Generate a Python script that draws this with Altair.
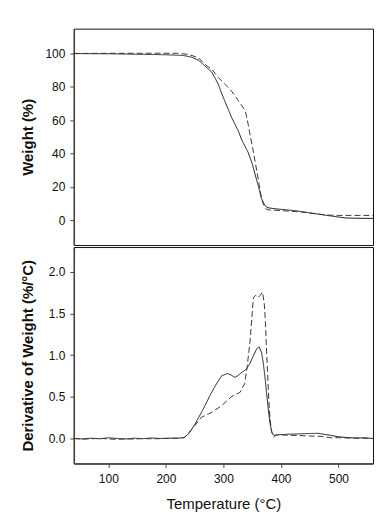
import altair as alt
import pandas as pd

# ---- Weight (TGA) ----
w_solid_T = [40, 100, 150, 200, 230, 245, 257, 268, 280, 291, 297, 309, 314, 326, 332, 343, 350, 355, 361, 366, 372, 375, 379, 390, 430, 476, 511, 530, 560]
w_solid_W = [100, 99.9, 99.6, 99.3, 98.9, 97.8, 96.0, 92.5, 88.8, 81.7, 76.0, 66.0, 61.8, 53.5, 48.0, 40.6, 34.0, 27.5, 20.0, 13.0, 9.0, 7.8, 7.3, 6.8, 5.4, 3.0, 1.3, 1.1, 1.0]

w_dash_T = [40, 150, 220, 240, 257, 268, 280, 291, 303, 314, 326, 338, 343, 347, 351, 358, 362, 366, 370, 375, 380, 390, 430, 480, 500, 560]
w_dash_W = [100.1, 100.2, 100.2, 99.5, 97.4, 93.5, 90.5, 85.7, 81.5, 77.5, 71.7, 65.7, 57.6, 50.0, 43.0, 29.5, 21.5, 13.4, 9.0, 6.4, 6.0, 5.9, 5.0, 3.0, 2.8, 2.8]

# ---- Derivative (DTG) ----
d_solid_T = [40, 55, 70, 85, 100, 115, 130, 145, 160, 175, 190, 205, 220, 232, 240, 251, 260, 268, 277, 286, 297, 307, 314, 320, 326, 332, 340, 346, 352, 358, 362, 366, 369, 372, 375, 378, 381, 384, 388, 395, 410, 430, 450, 465, 475, 488, 500, 517, 530, 545, 560]
d_solid_V = [0.0, -0.005, 0.003, -0.004, 0.008, 0.0, -0.006, 0.004, -0.003, 0.006, 0.0, 0.004, 0.003, 0.01, 0.06, 0.176, 0.29, 0.395, 0.52, 0.635, 0.754, 0.78, 0.76, 0.734, 0.76, 0.794, 0.834, 0.9, 0.994, 1.08, 1.10, 1.04, 0.92, 0.754, 0.55, 0.355, 0.18, 0.076, 0.036, 0.045, 0.05, 0.055, 0.06, 0.062, 0.05, 0.036, 0.02, 0.01, 0.005, 0.008, 0.0]

d_dash_T = [40, 55, 70, 85, 100, 115, 130, 145, 160, 175, 190, 205, 220, 232, 240, 251, 262, 280, 297, 314, 329, 337, 341, 346, 350, 352, 356, 360, 364, 368, 371, 373, 375, 377, 379, 381, 384, 387, 392, 410, 430, 450, 470, 488, 500, 520, 540, 560]
d_dash_V = [0.0, -0.008, -0.004, 0.002, -0.006, -0.01, -0.004, -0.008, 0.0, -0.004, -0.002, 0.0, 0.004, 0.012, 0.07, 0.16, 0.255, 0.315, 0.395, 0.503, 0.555, 0.66, 0.85, 1.15, 1.5, 1.69, 1.72, 1.69, 1.72, 1.76, 1.62, 1.4, 1.05, 0.75, 0.45, 0.235, 0.08, 0.016, 0.044, 0.04, 0.035, 0.03, 0.025, 0.008, 0.01, 0.005, 0.003, 0.0]

series_names = ["A", "B"]

wdf = pd.concat([
    pd.DataFrame({"T": w_solid_T, "V": w_solid_W, "s": series_names[0]}),
    pd.DataFrame({"T": w_dash_T, "V": w_dash_W, "s": series_names[1]}),
])
ddf = pd.concat([
    pd.DataFrame({"T": d_solid_T, "V": d_solid_V, "s": series_names[0]}),
    pd.DataFrame({"T": d_dash_T, "V": d_dash_V, "s": series_names[1]}),
])

FONT = "Liberation Sans"
dash = alt.StrokeDash("s:N", scale=alt.Scale(domain=series_names, range=[[1, 0], [6, 3]]), legend=None)
col = alt.Color("s:N", scale=alt.Scale(domain=series_names, range=["#1a1a1a", "#3a3a3a"]), legend=None)

top = alt.Chart(wdf).mark_line(strokeWidth=1).encode(
    x=alt.X("T:Q", scale=alt.Scale(domain=[40, 560], nice=False, zero=False),
            axis=None),
    y=alt.Y("V:Q", scale=alt.Scale(domain=[-15, 115], nice=False),
            axis=alt.Axis(title="Weight (%)", values=[0, 20, 40, 60, 80, 100],
                          minExtent=28, maxExtent=28, titlePadding=10)),
    strokeDash=dash, color=col, order="T:Q", detail="s:N",
).properties(width=300, height=217)

bottom = alt.Chart(ddf).mark_line(strokeWidth=1).encode(
    x=alt.X("T:Q", scale=alt.Scale(domain=[40, 560], nice=False, zero=False),
            axis=alt.Axis(title="Temperature (°C)", values=[100, 200, 300, 400, 500],
                          titleFontWeight="normal", titlePadding=12, labelPadding=6)),
    y=alt.Y("V:Q", scale=alt.Scale(domain=[-0.3, 2.3], nice=False),
            axis=alt.Axis(title="Derivative of Weight (%/°C)", values=[0, 0.5, 1.0, 1.5, 2.0],
                          format=".1f", minExtent=28, maxExtent=28, titlePadding=10)),
    strokeDash=dash, color=col, order="T:Q", detail="s:N",
).properties(width=300, height=217)

chart = alt.vconcat(top, bottom, spacing=0).properties(
    padding={"top": 19, "left": 12, "right": 0, "bottom": 0}
).configure_view(
    stroke="#111", strokeWidth=1
).configure_axis(
    grid=False, domainColor="#444", domainWidth=1.5, tickColor="#444", tickSize=4,
    labelFont=FONT, titleFont=FONT, labelFontSize=12, titleFontSize=15,
    labelColor="#111", titleColor="#111", titleFontWeight="bold", labelPadding=5,
).configure_concat(spacing=0)

chart.save("out.html", embed_options={"renderer": "svg", "actions": False})
